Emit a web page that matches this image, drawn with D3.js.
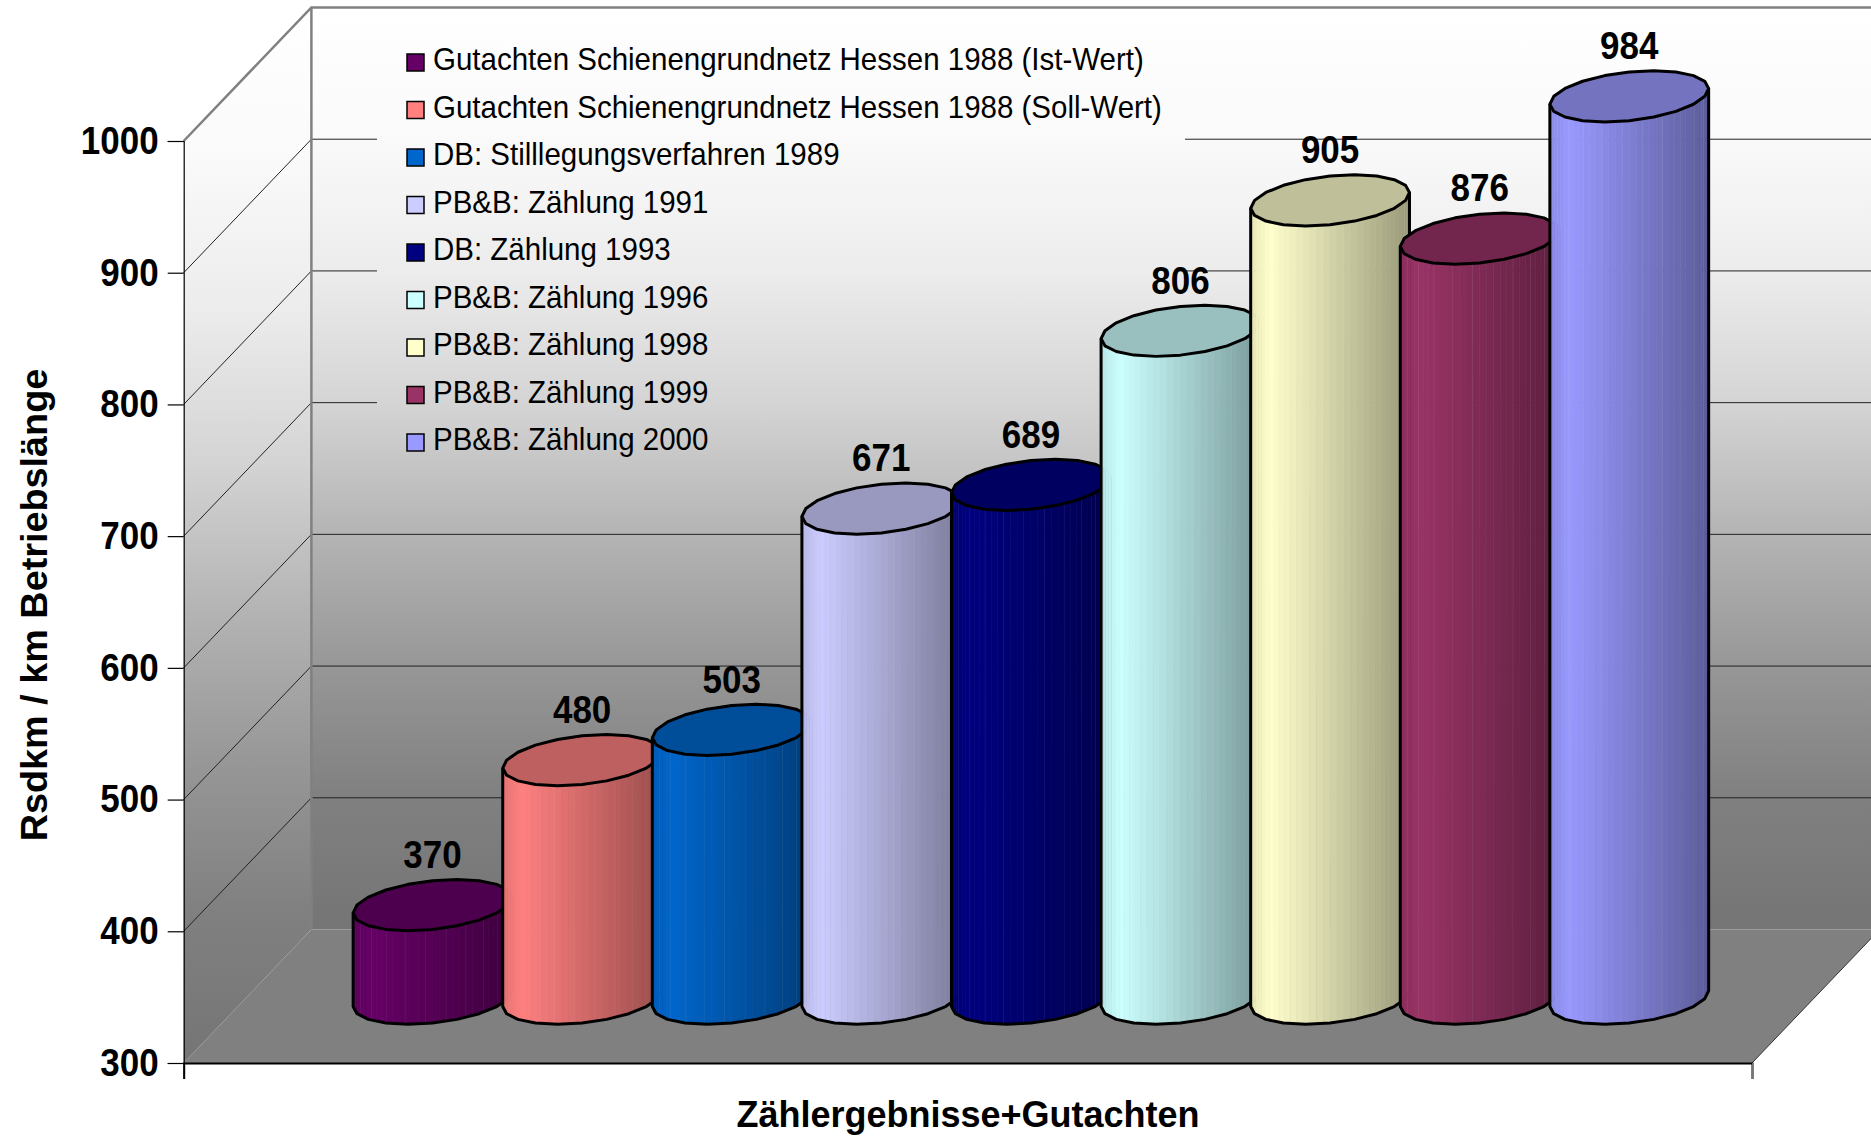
<!DOCTYPE html>
<meta charset="utf-8">
<head>
	<script type="text/javascript" src="https://d3js.org/d3.v7.min.js"></script>
	<style>
		html, body { margin: 0; padding: 0; background: #fff; }
		svg { display: block; }
		text { font-family: "Liberation Sans", Arial, sans-serif; fill: #000; }
		.tick text, .value, .axis_title { font-weight: bold; }
		.tick text { font-size: 35px; }
		.value { font-size: 35px; text-anchor: middle; }
		.axis_title { font-size: 36px; text-anchor: middle; }
		.legend_label { font-size: 29.5px; dominant-baseline: middle; }
	</style>
</head>
<body>
<script>
	// values
	var categories = [
		"Gutachten Schienengrundnetz Hessen 1988 (Ist-Wert)",
		"Gutachten Schienengrundnetz Hessen 1988 (Soll-Wert)",
		"DB: Stilllegungsverfahren 1989",
		"PB&B: Zählung 1991",
		"DB: Zählung 1993",
		"PB&B: Zählung 1996",
		"PB&B: Zählung 1998",
		"PB&B: Zählung 1999",
		"PB&B: Zählung 2000"
	];
	var values = [370, 480, 503, 671, 689, 806, 905, 876, 984];
	var colors = ["#660066", "#ff8080", "#0066cc", "#ccccff", "#000080", "#ccffff", "#ffffcc", "#993366", "#9999ff"];
	var yTicks = [300, 400, 500, 600, 700, 800, 900, 1000];
	var yTitle = "Rsdkm / km Betriebslänge";
	var xTitle = "Zählergebnisse+Gutachten";
	// wall shading, sampled at the gridlines
	var wallOffsets = [0, 0.14, 0.287, 0.43, 0.57, 0.714, 0.856, 1];
	var wallGreys = ["#ffffff", "#fafafa", "#ececec", "#d4d4d4", "#b4b4b4", "#979797", "#808080", "#757575"];

	var w = 1871;
	var h = 1136;
	var frontLeft = 183.7;
	var frontRight = 1752;
	var depthX = 127.7;   // shift from front edge to back wall
	var depthY = -133.5;

	var svg = d3.select("body").append("svg").attr("width", w).attr("height", h);
	var defs = svg.append("defs");

	var y = d3.scaleLinear().domain([300, 1000]).range([1063, 141]);
	var x = d3.scaleBand().domain(categories).range([frontLeft, frontRight]).paddingInner(0).paddingOuter(0.742);

	function addWallGradient(id, y1, y2) {
		var g = defs.append("linearGradient").attr("id", id)
			.attr("gradientUnits", "userSpaceOnUse")
			.attr("x1", 0).attr("x2", 0).attr("y1", y1).attr("y2", y2);
		wallOffsets.forEach(function(o, i) {
			g.append("stop").attr("offset", o).attr("stop-color", wallGreys[i]);
		});
	}
	var top0 = y(1000) + depthY;
	var back0 = y(300) + depthY;
	addWallGradient("back_wall", top0, back0);
	addWallGradient("side_wall", top0, y(300));

	function poly(points) { return "M" + points.join("L") + "Z"; }

	// walls and floor
	svg.append("path")
		.attr("d", poly([[frontLeft + depthX, top0], [w + 20, top0], [w + 20, back0], [frontLeft + depthX, back0]]))
		.attr("fill", "url(#back_wall)");
	svg.append("path")
		.attr("d", poly([[frontLeft, y(1000)], [frontLeft + depthX, top0], [frontLeft + depthX, back0], [frontLeft, y(300)]]))
		.attr("fill", "url(#side_wall)");
	svg.append("path")
		.attr("d", poly([[frontLeft, y(300)], [frontRight, y(300)], [frontRight + depthX, back0], [frontLeft + depthX, back0]]))
		.attr("fill", "#808080");

	// gridlines, side wall then back wall
	var grid = svg.append("g");
	grid.selectAll(".side").data(yTicks.slice(1, -1)).enter().append("line")
		.attr("x1", frontLeft).attr("x2", frontLeft + depthX)
		.attr("y1", d => y(d)).attr("y2", d => y(d) + depthY)
		.attr("stroke", "#222").attr("stroke-width", 1);
	grid.selectAll(".back").data(yTicks.slice(1, -1)).enter().append("line")
		.attr("x1", frontLeft + depthX).attr("x2", w)
		.attr("y1", d => y(d) + depthY).attr("y2", d => y(d) + depthY)
		.attr("stroke", "#222").attr("stroke-width", 1);

	// wall edges
	svg.append("path")
		.attr("d", "M" + [frontLeft, y(1000)] + "L" + [frontLeft + depthX, top0] + "L" + [w, top0])
		.attr("fill", "none").attr("stroke", "#808080").attr("stroke-width", 2.5);
	svg.append("line")
		.attr("x1", frontLeft + depthX).attr("x2", frontLeft + depthX)
		.attr("y1", top0).attr("y2", back0)
		.attr("stroke", "#808080").attr("stroke-width", 2.5);
	svg.append("line")
		.attr("x1", frontRight).attr("x2", frontRight + depthX)
		.attr("y1", y(300)).attr("y2", back0)
		.attr("stroke", "#333").attr("stroke-width", 1);

	// legend box hides the gridlines behind it
	svg.append("rect")
		.attr("x", 377).attr("y", 20).attr("width", 808).attr("height", 440)
		.attr("fill", "url(#back_wall)");

	// axes
	var yAxis = d3.axisLeft(y).tickValues(yTicks).tickSize(16).tickPadding(9).tickFormat(d3.format("d"));
	var yG = svg.append("g").attr("transform", "translate(" + frontLeft + ",0)").call(yAxis);
	yG.select(".domain").attr("stroke-width", 1.2);
	yG.selectAll("line").attr("stroke-width", 1.2);
	yG.selectAll("text").attr("transform", "scale(1,1.1)");

	var xEnds = d3.scaleLinear().domain([0, 1]).range([frontLeft, frontRight]);
	var xAxis = d3.axisBottom(xEnds).tickValues([0, 1]).tickSize(16).tickFormat("");
	var xG = svg.append("g").attr("transform", "translate(0," + y(300) + ")").call(xAxis);
	xG.select(".domain").attr("stroke-width", 2);
	xG.selectAll("line").attr("stroke-width", 1.2);
	xG.selectAll("line").filter(d => d == 1).attr("stroke", "#777");

	// cylinders, left to right so the next one covers the previous
	// they are wider than the band, the last one shows its full width
	var step = x.step();
	var R = 79.4;
	var C = 25.6;                                  // half height of the top ellipse
	var B = C * depthX / -depthY;                  // shear from the depth direction
	var A = Math.sqrt(R * R - B * B);
	var phi = Math.atan2(B, A);
	var sides = 20;
	var angles = d3.range(sides).map(i => phi + Math.PI + i * 2 * Math.PI / sides);
	var fineAngles = d3.range(37).map(i => phi + Math.PI + i * Math.PI / 36);

	function rim(cx, cy, t) {
		return [cx + A * Math.cos(t) + B * Math.sin(t), cy - C * Math.sin(t)];
	}

	function shade(color, f) {
		var ramp = f < 0.12 ? 0.9 + f * 0.83 : 1 - (f - 0.12) * 0.45;
		return d3.interpolateRgb("#000", color)(ramp);
	}

	function centerX(i) {
		return x(categories[i]) + step / 2 + depthX / 2 - 0.8;
	}

	var line = d3.line();
	var cylinders = svg.append("g");

	values.forEach(function(v, i) {
		var cx = centerX(i);
		var topY = y(v) + depthY / 2 + 1;
		var baseY = y(300) + depthY / 2 + 2.4;
		var g = cylinders.append("g");

		// body facets, from the left extreme of the rim round the front to the right one
		fineAngles.slice(0, -1).forEach(function(t, k) {
			var a = rim(cx, topY, t), b = rim(cx, topY, fineAngles[k + 1]);
			var c = rim(cx, baseY, fineAngles[k + 1]), d = rim(cx, baseY, t);
			var fill = shade(colors[i], ((a[0] + b[0]) / 2 - (cx - R)) / (2 * R));
			g.append("path").attr("d", poly([a, b, c, d])).attr("fill", fill).attr("stroke", fill).attr("stroke-width", 0.6);
			if (k % 3 == 1) {
				g.append("line")
					.attr("x1", b[0]).attr("y1", b[1]).attr("x2", c[0]).attr("y2", c[1])
					.attr("stroke", "#fff").attr("stroke-opacity", 0.16).attr("stroke-width", 1);
			}
		});

		// outline of the body
		var front = angles.slice(0, sides / 2 + 1);
		var outline = [rim(cx, topY, front[0])]
			.concat(front.map(t => rim(cx, baseY, t)))
			.concat([rim(cx, topY, front[front.length - 1])]);
		g.append("path").attr("d", line(outline))
			.attr("fill", "none").attr("stroke", "#000").attr("stroke-width", 3).attr("stroke-linejoin", "round");

		// top ellipse
		g.append("path").attr("d", line(angles.map(t => rim(cx, topY, t))) + "Z")
			.attr("fill", d3.interpolateRgb("#000", colors[i])(0.75))
			.attr("stroke", "#000").attr("stroke-width", 3).attr("stroke-linejoin", "round");
	});

	// data labels go above every cylinder
	svg.append("g").selectAll("text").data(values).enter().append("text")
		.attr("class", "value")
		.attr("transform", (d, i) => "translate(" + centerX(i) + "," + (y(d) + depthY / 2 - C - 10.5) + ") scale(1,1.1)")
		.text(d => d);

	// legend
	var legendY = d3.scalePoint().domain(categories).range([62, 442]);
	var legend = svg.append("g").selectAll("g").data(categories).enter().append("g")
		.attr("transform", d => "translate(407," + legendY(d) + ")");
	legend.append("rect")
		.attr("x", 0).attr("y", -8).attr("width", 17).attr("height", 17)
		.attr("fill", (d, i) => colors[i])
		.attr("stroke", "#000").attr("stroke-width", 1.5);
	legend.append("text")
		.attr("class", "legend_label")
		.attr("x", 26).attr("y", 0)
		.attr("transform", "scale(1,1.05)")
		.text(d => d);

	// axis titles
	svg.append("text").attr("class", "axis_title")
		.attr("x", 968).attr("y", 1127)
		.text(xTitle);
	svg.append("text").attr("class", "axis_title")
		.attr("transform", "translate(47,605) rotate(-90)")
		.style("font-size", "37.8px")
		.text(yTitle);
</script>
</body>
</html>
